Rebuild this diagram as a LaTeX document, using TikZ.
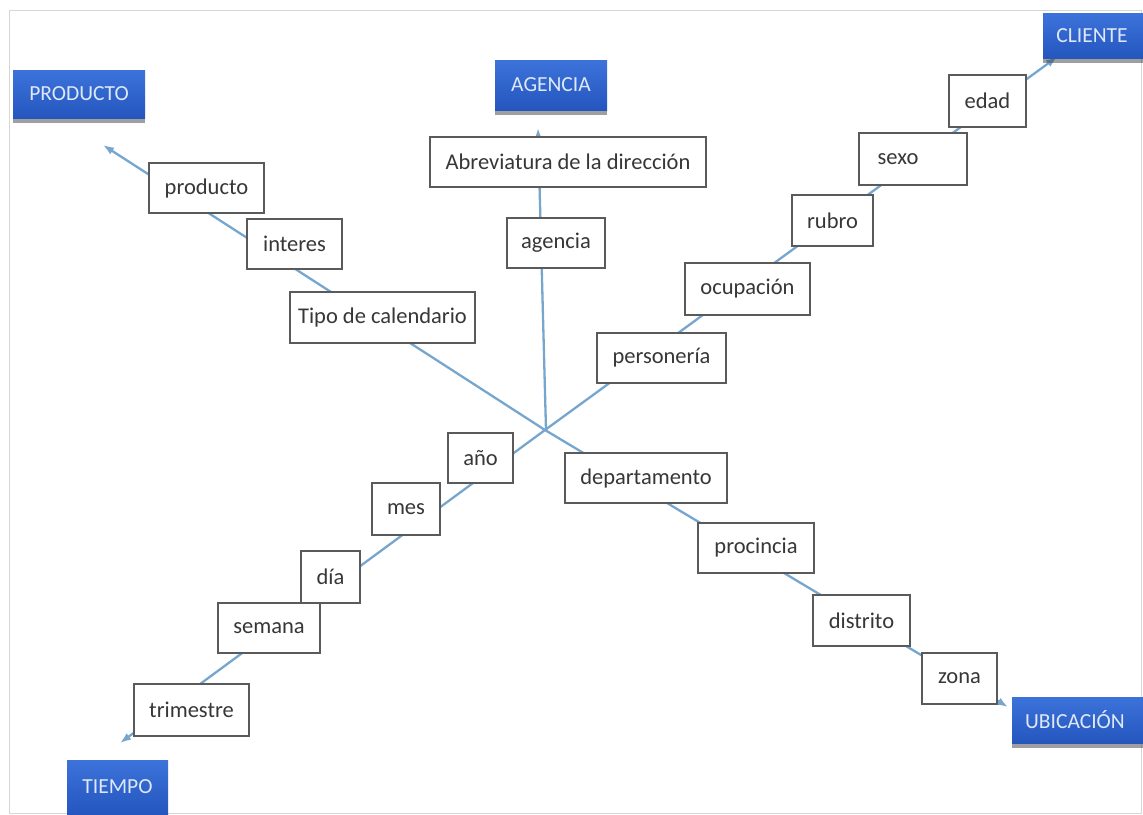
\documentclass[tikz,border=0pt]{standalone}
\usepackage{fontspec}
\setmainfont{Carlito}
\usetikzlibrary{arrows.meta,shadows}
\definecolor{linkblue}{RGB}{118,166,206}
\definecolor{boxline}{RGB}{90,90,90}
\definecolor{txtgray}{RGB}{55,55,55}
\definecolor{dimtop}{RGB}{60,115,218}
\definecolor{dimbot}{RGB}{36,86,190}
\definecolor{dimtxt}{RGB}{222,232,248}
\definecolor{framegray}{RGB}{214,214,214}
\begin{document}
\begin{tikzpicture}[x=1pt,y=-1pt,
  attr/.style={draw=boxline,line width=1.1pt,fill=white,inner sep=0pt,
    text=txtgray,font=\fontsize{22.5}{26}\selectfont},
  dimbox/.style={inner sep=0pt,top color=dimtop,bottom color=dimbot,draw=none,
    text=dimtxt,font=\fontsize{21.5}{25}\selectfont,
    drop shadow={shadow xshift=0pt,shadow yshift=-5pt,opacity=0.5,fill=black!75}},
  link/.style={draw=linkblue,line width=2.3pt},
  arr/.style={link,-{Latex[length=11pt,width=8pt]}}]
\useasboundingbox (0,0) rectangle (1143,814);
\draw[framegray,line width=1pt] (9,10) rectangle (1141,813);
% hub and free ends
\coordinate (hub) at (545,430);
\coordinate (endprod) at (103,145);
\coordinate (endag) at (538,128);
\coordinate (endcli) at (1057,57);
\coordinate (endtie) at (120,743);
\coordinate (endubi) at (1008,707);
\draw[arr] (hub) -- (endprod);
\draw[arr] ([xshift=1pt]hub) -- (endag);
\draw[arr] (hub) -- (endcli);
\draw[arr] (hub) -- (endtie);
\draw[arr] (hub) -- (endubi);
% dimension boxes
\node[dimbox,minimum width=132pt,minimum height=48pt] (PRODUCTO) at (79,94) {PRODUCTO};
\node[dimbox,minimum width=112pt,minimum height=50pt] (AGENCIA) at (551,85) {AGENCIA};
\node[dimbox,minimum width=106pt,minimum height=45pt] (CLIENTE) at (1096,35.5) {\hspace*{-8pt}CLIENTE};
\node[dimbox,minimum width=101pt,minimum height=54pt] (TIEMPO) at (117.5,787) {TIEMPO};
\node[dimbox,minimum width=136pt,minimum height=46pt] (UBICACION) at (1080,720) {\hspace*{-10pt}UBICACIÓN};
% attribute boxes
\node[attr,minimum width=115pt,minimum height=50pt] (producto) at (206.5,188) {producto};
\node[attr,minimum width=95pt,minimum height=50pt] (interes) at (294.5,244) {interes};
\node[attr,minimum width=185pt,minimum height=51pt] (tipo) at (382.5,317.5) {Tipo de calendario};
\node[attr,minimum width=276pt,minimum height=50pt] (abrev) at (568,162) {Abreviatura de la dirección};
\node[attr,minimum width=98pt,minimum height=50pt] (agencia) at (556,243) {agencia};
\node[attr,minimum width=77pt,minimum height=52pt] (edad) at (987.5,101) {edad};
\node[attr,minimum width=108pt,minimum height=52pt] (sexo) at (913,159) {\hspace*{-30pt}sexo};
\node[attr,minimum width=81pt,minimum height=51pt] (rubro) at (832.5,220.5) {rubro};
\node[attr,minimum width=125pt,minimum height=52pt] (ocupacion) at (747.5,289) {ocupación};
\node[attr,minimum width=129pt,minimum height=50pt] (personeria) at (661.5,358) {personería};
\node[attr,minimum width=65pt,minimum height=50pt] (ano) at (480.5,458) {año};
\node[attr,minimum width=162pt,minimum height=50pt] (departamento) at (646,478) {departamento};
\node[attr,minimum width=68pt,minimum height=52pt] (mes) at (406,509) {mes};
\node[attr,minimum width=59pt,minimum height=52pt] (dia) at (330.5,577) {día};
\node[attr,minimum width=116pt,minimum height=50pt] (procincia) at (756,548) {procincia};
\node[attr,minimum width=102pt,minimum height=50pt] (semana) at (269,628) {semana};
\node[attr,minimum width=97pt,minimum height=51pt] (distrito) at (861.5,620.5) {distrito};
\node[attr,minimum width=115pt,minimum height=52pt] (trimestre) at (191.5,710) {trimestre};
\node[attr,minimum width=75pt,minimum height=51pt] (zona) at (959.5,678.5) {zona};
\end{tikzpicture}
\end{document}
